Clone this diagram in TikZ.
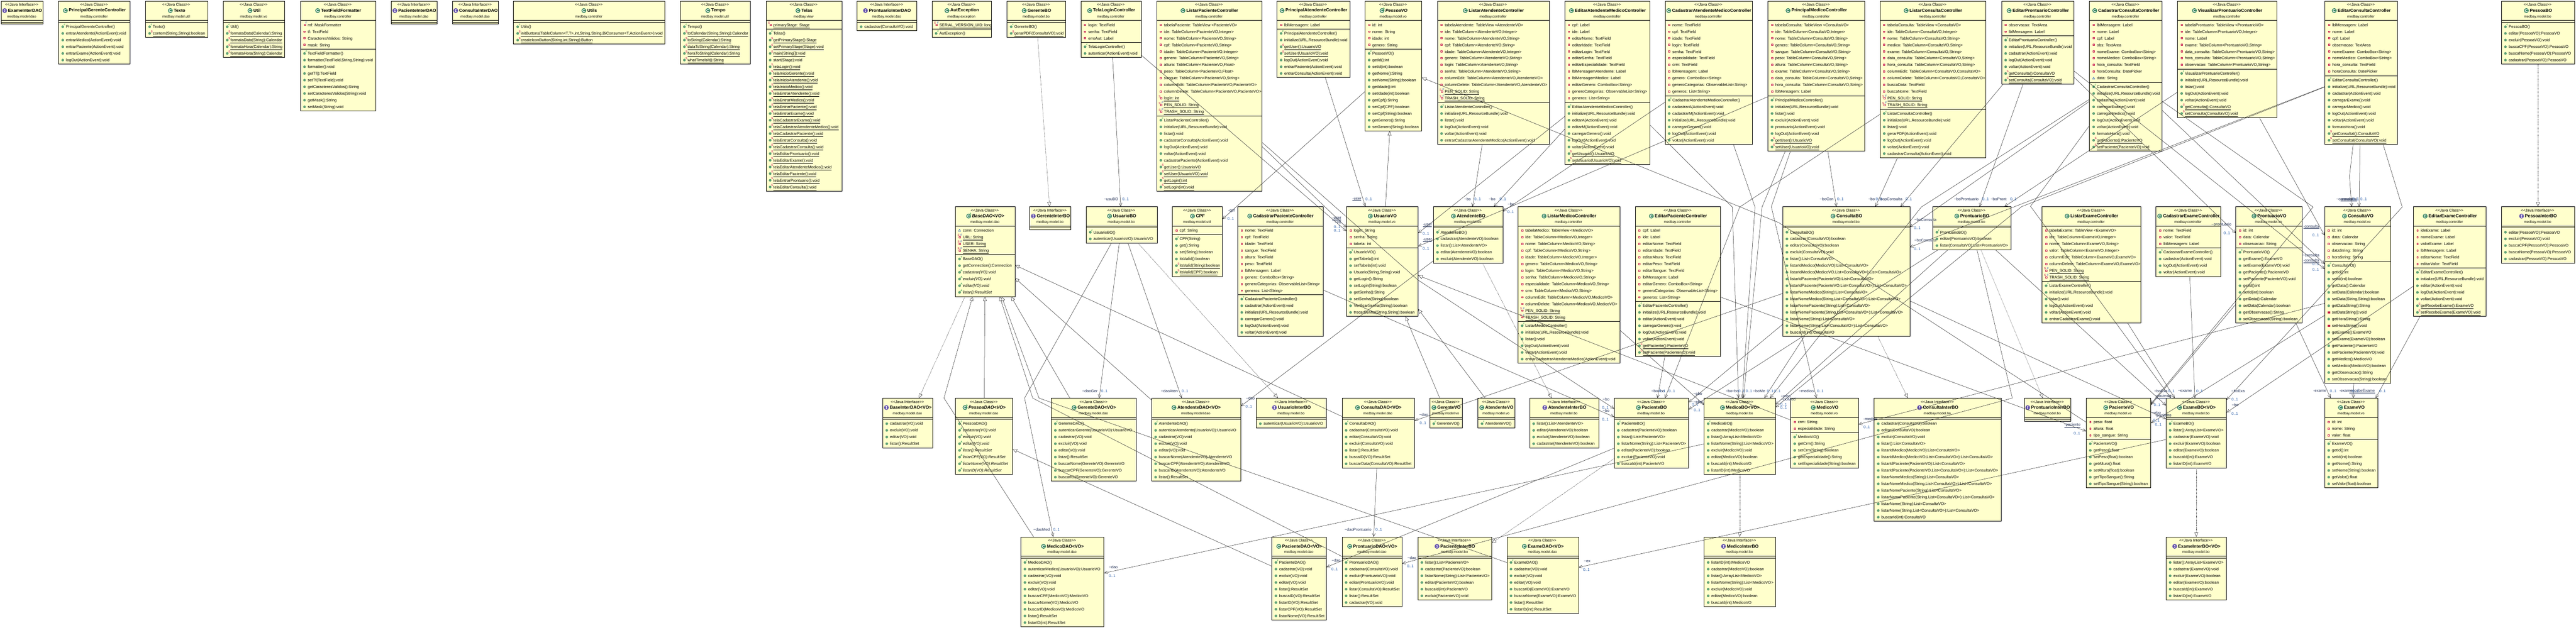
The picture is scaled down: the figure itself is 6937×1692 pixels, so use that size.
\documentclass[tikz,border=0pt]{standalone}
\usepackage{fontspec}
\setmainfont{Liberation Sans}
\usetikzlibrary{arrows.meta,calc}
\definecolor{cellbg}{HTML}{FFFFCC}
\definecolor{dotg}{HTML}{5FA97C}
\definecolor{dotgd}{HTML}{3E7F5A}
\definecolor{clsg}{HTML}{3F8A66}
\definecolor{ifcp}{HTML}{6A58B0}
\definecolor{privr}{HTML}{C8264E}
\definecolor{privf}{HTML}{FBD9D9}
\definecolor{statr}{HTML}{C0004E}
\definecolor{finb}{HTML}{2A48C0}
\definecolor{ctorg}{HTML}{0A8A3A}
\definecolor{pkgb}{HTML}{2A66C0}
\definecolor{rolec}{HTML}{1C2A50}
\definecolor{multc}{HTML}{2A5EA8}
\tikzset{
 umlcell/.style={draw=black,fill=cellbg,line width=1.1pt,anchor=north west,inner sep=0pt,outer sep=0pt},
 umlrule/.style={draw=black,line width=1pt},
 rowtext/.style={anchor=base west,inner sep=0pt,font=\fontsize{10.6}{12}\selectfont},
 steretext/.style={anchor=center,inner sep=0pt,font=\fontsize{10.4}{12}\selectfont},
 titletext/.style={anchor=center,inner sep=0pt,font=\fontsize{12}{14}\selectfont\bfseries},
 titleabs/.style={anchor=center,inner sep=0pt,font=\fontsize{12}{14}\selectfont\bfseries\itshape},
 pkgtext/.style={anchor=center,inner sep=0pt,font=\fontsize{9.3}{11}\selectfont},
 modtext/.style={anchor=center,inner sep=0pt,font=\fontsize{7.5}{8}\selectfont},
 rolelabel/.style={anchor=center,inner sep=0pt,text=rolec,font=\fontsize{10.5}{12}\selectfont},
 multlabel/.style={anchor=center,inner sep=0pt,text=multc,font=\fontsize{10.5}{12}\selectfont},
 assoc/.style={draw=black!85,line width=.7pt,-{Straight Barb[length=9pt,width=8pt]}},
 inherit/.style={draw=black!85,line width=.7pt,-{Triangle[open,length=12pt,width=10pt,fill=white]}},
 realize/.style={inherit,dash pattern=on 2pt off 1.6pt},
}
\newcount\itemcnt
\newcount\lblcnt
\newcommand{\rowitem}[1]{\global\advance\itemcnt by 1
 \node[rowtext,name=it\the\itemcnt] at (\bx+19.5,\ry+3.9) {#1};
 \pgfmathsetmacro\ry{\ry+18}}
\newcommand{\modS}[1]{\global\advance\itemcnt by 1
 \node[modtext,text=statr,name=it\the\itemcnt] at (\bx+#1,\ry-5) {S};}
\newcommand{\modF}[1]{\global\advance\itemcnt by 1
 \node[modtext,text=finb,name=it\the\itemcnt] at (\bx+#1,\ry-5.5) {F};}
\newcommand{\modC}{\global\advance\itemcnt by 1
 \node[modtext,text=ctorg,name=it\the\itemcnt] at (\bx+16,\ry-5) {c};}
\newcommand{\modA}{\global\advance\itemcnt by 1
 \node[modtext,text=ctorg,name=it\the\itemcnt] at (\bx+16,\ry-5) {A};}
\newcommand{\icSq}[1]{\draw[draw=privr,fill=privf,line width=.9pt] (\bx+#1-2,\ry-2) rectangle (\bx+#1+2,\ry+2);}
\newcommand{\icDot}{\fill[draw=dotgd,fill=dotg,line width=.5pt] (\bx+11,\ry) circle[radius=3.1];}
\newcommand{\aP}[1]{\icSq{11}\rowitem{#1}}
\newcommand{\aF}[1]{\icSq{12}\modF{16}\rowitem{#1}}
\newcommand{\aS}[1]{\icSq{12}\modS{8}\rowitem{\underline{#1}}}
\newcommand{\aSF}[1]{\icSq{12}\modS{8}\modF{16}\rowitem{\underline{#1}}}
\newcommand{\aK}[1]{\draw[draw=pkgb,fill=cellbg,line width=.9pt] (\bx+8,\ry+2.4) -- (\bx+14,\ry+2.4) -- (\bx+11,\ry-3) -- cycle;\rowitem{#1}}
\newcommand{\mP}[1]{\icDot\rowitem{#1}}
\newcommand{\mC}[1]{\icDot\modC\rowitem{#1}}
\newcommand{\mS}[1]{\icDot\modS{16.5}\rowitem{\underline{#1}}}
\newcommand{\mA}[1]{\icDot\modA\rowitem{\itshape #1}}
\newcommand{\mR}[1]{\fill[privr] (\bx+7.5,\ry-3) rectangle (\bx+14.5,\ry+3);\rowitem{#1}}
\newcommand{\umlbox}[9]{\def\bn{#1}\def\bx{#2}\def\by{#3}\def\bw{#4}\def\bk{#5}\def\bt{#6}\def\bp{#7}\def\na{#8}\def\nm{#9}\umlboxB}
\newcommand{\umlboxB}[2]{%
 \pgfmathsetmacro\hh{62+18*\na+18*\nm}%
 \pgfmathsetmacro\ya{\by+52}%
 \pgfmathsetmacro\yb{\by+57+18*\na}%
 \pgfmathsetmacro\cx{\bx+\bw/2}%
 \node[umlcell,minimum width=\bw pt,minimum height=\hh pt] (\bn) at (\bx,\by) {};
 \draw[umlrule] (\bx,\ya) -- (\bx+\bw,\ya);
 \draw[umlrule] (\bx,\yb) -- (\bx+\bw,\yb);
 \if\bk i\def\stt{<{}<Java Interface>{}>}\else\def\stt{<{}<Java Class>{}>}\fi
 \node[steretext] (\bn-st) at (\cx-1,\by+9.7) {\stt};
 \if\bk a\node[titleabs] (\bn-t) at (\cx+8,\by+25.5) {\bt};\else\node[titletext] (\bn-t) at (\cx+8,\by+25.5) {\bt};\fi
 \node[pkgtext] (\bn-p) at (\cx-1,\by+42) {\bp};
 \path ([xshift=-9pt]\bn-t.west) coordinate (\bn-ic);
 \if\bk i
  \fill[ifcp] (\bn-ic) circle[radius=6.5];
  \draw[white,line width=1.2pt,shift={(\bn-ic)}] (-1.8,-3) -- (1.8,-3) (0,-3) -- (0,3) (-1.8,3) -- (1.8,3);
 \else
  \fill[clsg] (\bn-ic) circle[radius=6.5];
  \draw[white,line width=1.3pt,shift={(\bn-ic)}] (3,-2.4) .. controls (0,-4.6) and (-3.6,-3) .. (-3.4,0) .. controls (-3.6,3) and (0,4.6) .. (3,2.4);
 \fi
 \if\bk a\node[modtext,text=ctorg] (\bn-abs) at ([shift={(5,-6)}]\bn-ic) {A};\fi
 \pgfmathsetmacro\ry{\ya+12}%
 #1
 \pgfmathsetmacro\ry{\yb+12}%
 #2
}
\newcommand{\lr}[3]{\global\advance\lblcnt by 1 \node[rolelabel,name=lb\the\lblcnt] at (#1,#2) {#3};}
\newcommand{\lm}[2]{\global\advance\lblcnt by 1 \node[multlabel,name=lb\the\lblcnt] at (#1,#2) {0..1};}
\newcommand{\tl}{\textasciitilde}
\newcommand{\ia}{medbay.model.dao}
\newcommand{\ib}{medbay.model.bo}
\newcommand{\iv}{medbay.model.vo}
\newcommand{\ic}{medbay.controller}
\newcommand{\evv}{(ActionEvent):void}
\newcommand{\ini}{initialize(URL,ResourceBundle):void}
\begin{document}
\begin{tikzpicture}[x=1pt,y=-1pt]
\useasboundingbox (0,0) rectangle (6937,1692);
% ---- row 1
\umlbox{eid}{3}{3}{113}{i}{ExameInterDAO}{\ia}{0}{0}{}{}
\umlbox{pgc}{158}{3}{192}{c}{PrincipalGerenteController}{\ic}{0}{6}{}{\mC{PrincipalGerenteController()}\mP{entrarAtendente\evv}\mP{entrarMedico\evv}\mP{entrarPaciente\evv}\mP{entrarExame\evv}\mP{logOut\evv}}
\umlbox{texto}{392}{3}{167}{c}{Texto}{medbay.model.util}{0}{2}{}{\mC{Texto()}\mS{contem(String,String):boolean}}
\umlbox{util}{601}{3}{166}{c}{Util}{\iv}{0}{5}{}{\mC{Util()}\mS{formataData(Calendar):String}\mS{formataData(String):Calendar}\mS{formataHora(Calendar):String}\mS{formataHora(String):Calendar}}
\umlbox{tff}{809}{3}{203}{c}{TextFieldFormatter}{\ic}{4}{9}{\aF{mf: MaskFormatter}\aP{tf: TextField}\aP{CaracteresValidos: String}\aP{mask: String}}{\mC{TextFieldFormatter()}\mP{formatter(TextField,String,String):void}\mP{formatter():void}\mP{getTf():TextField}\mP{setTf(TextField):void}\mP{getCaracteresValidos():String}\mP{setCaracteresValidos(String):void}\mP{getMask():String}\mP{setMask(String):void}}
\umlbox{pid}{1054}{3}{123}{i}{PacienteInterDAO}{\ia}{0}{0}{}{}
\umlbox{cid}{1219}{3}{123}{i}{ConsultaInterDAO}{\ia}{0}{0}{}{}
\umlbox{utils}{1383}{3}{407}{c}{Utils}{\ic}{0}{3}{}{\mC{Utils()}\mS{initButtons(TableColumn<T,T>,int,String,String,BiConsumer<T,ActionEvent>):void}\mS{createIconButton(String,int,String):Button}}
\umlbox{tempo}{1832}{3}{189}{c}{Tempo}{medbay.model.util}{0}{6}{}{\mC{Tempo()}\mS{toCalendar(String,String):Calendar}\mS{toString(Calendar):String}\mS{dataToString(Calendar):String}\mS{horaToString(Calendar):String}\mS{whatTimeIsIt():String}}
\umlbox{telas}{2063}{3}{204}{c}{Telas}{medbay.view}{1}{24}{\aS{primaryStage: Stage}}{\mC{Telas()}\mS{getPrimaryStage():Stage}\mS{setPrimaryStage(Stage):void}\mS{main(String[]):void}\mP{start(Stage):void}\mS{telaLogin():void}\mS{telaInicioGerente():void}\mS{telaInicioAtendente():void}\mS{telaInicioMedico():void}\mS{telaEntrarAtendente():void}\mS{telaEntrarMedico():void}\mS{telaEntrarPaciente():void}\mS{telaEntrarExame():void}\mS{telaCadastrarExame():void}\mS{telaCadastrarAtendenteMedico():void}\mS{telaCadastrarPaciente():void}\mS{telaEntrarConsulta():void}\mS{telaCadastrarConsulta():void}\mS{telaEditarProntuario():void}\mS{telaEditarExame():void}\mS{telaEditarAtendenteMedico():void}\mS{telaEditarPaciente():void}\mS{telaEntrarProntuario():void}\mS{telaEditarConsulta():void}}
\umlbox{prid}{2308}{3}{161}{i}{ProntuarioInterDAO}{\ia}{0}{1}{}{\mP{cadastrar(ConsultaVO):void}}
\umlbox{aute}{2510}{3}{160}{c}{AutException}{medbay.exception}{1}{1}{\aSF{SERIAL\_VERSION\_UID: long}}{\mC{AutException()}}
\umlbox{gerbo}{2712}{3}{158}{c}{GerenteBO}{\ib}{0}{2}{}{\mC{GerenteBO()}\mS{gerarPDF(ConsultaVO):void}}
\umlbox{tlc}{2911}{3}{162}{c}{TelaLoginController}{\ic}{3}{2}{\aP{login: TextField}\aP{senha: TextField}\aP{erroAut: Label}}{\mC{TelaLoginController()}\mP{autenticar\evv}}
\umlbox{lpc}{3115}{3}{283}{c}{ListarPacienteController}{\ic}{14}{11}{\aP{tabelaPaciente: TableView <PacienteVO>}\aP{ide: TableColumn<PacienteVO,Integer>}\aP{nome: TableColumn<PacienteVO,String>}\aP{cpf: TableColumn<PacienteVO,String>}\aP{idade: TableColumn<PacienteVO,Integer>}\aP{genero: TableColumn<PacienteVO,String>}\aP{altura: TableColumn<PacienteVO,Float>}\aP{peso: TableColumn<PacienteVO,Float>}\aP{sangue: TableColumn<PacienteVO,String>}\aP{columnEdit: TableColumn<PacienteVO,PacienteVO>}\aP{columnDelete: TableColumn<PacienteVO,PacienteVO>}\aS{login: int}\aSF{PEN\_SOLID: String}\aSF{TRASH\_SOLID: String}}{\mC{ListarPacienteController()}\mP{\ini}\mP{listar():void}\mP{cadastrarConsulta\evv}\mP{logOut\evv}\mP{voltar\evv}\mP{cadastrarPaciente\evv}\mS{getUser():UsuarioVO}\mS{setUser(UsuarioVO):void}\mS{getLogin():int}\mS{setLogin(int):void}}
\umlbox{pac}{3439}{3}{196}{c}{PrincipalAtendenteController}{\ic}{1}{7}{\aP{lblMensagem: Label}}{\mC{PrincipalAtendenteController()}\mP{\ini}\mS{getUser():UsuarioVO}\mS{setUser(UsuarioVO):void}\mP{logOut\evv}\mP{entrarPaciente\evv}\mP{entrarConsulta\evv}}
\umlbox{pessoavo}{3676}{3}{153}{a}{PessoaVO}{\iv}{4}{12}{\aP{id: int}\aP{nome: String}\aP{idade: int}\aP{genero: String}}{\mC{PessoaVO()}\mP{getId():int}\mP{setId(int):boolean}\mP{getNome():String}\mP{setNome(String):boolean}\mP{getIdade():int}\mP{setIdade(int):boolean}\mP{getCpf():String}\mP{setCpf(CPF):boolean}\mP{setCpf(String):boolean}\mP{getGenero():String}\mP{setGenero(String):boolean}}
\umlbox{lac}{3871}{3}{301}{c}{ListarAtendenteController}{\ic}{12}{6}{\aP{tabelaAtendente: TableView <AtendenteVO>}\aP{ide: TableColumn<AtendenteVO,Integer>}\aP{nome: TableColumn<AtendenteVO,String>}\aP{cpf: TableColumn<AtendenteVO,String>}\aP{idade: TableColumn<AtendenteVO,Integer>}\aP{genero: TableColumn<AtendenteVO,String>}\aP{login: TableColumn<AtendenteVO,String>}\aP{senha: TableColumn<AtendenteVO,String>}\aP{columnEdit: TableColumn<AtendenteVO,AtendenteVO>}\aP{columnDelete: TableColumn<AtendenteVO,AtendenteVO>}\aSF{PEN\_SOLID: String}\aSF{TRASH\_SOLID: String}}{\mC{ListarAtendenteController()}\mP{\ini}\mP{listar():void}\mP{logOut\evv}\mP{voltar\evv}\mP{entrarCadastrarAtendenteMedico\evv}}
\umlbox{eamc}{4214}{3}{229}{c}{EditarAtendenteMedicoController}{\ic}{12}{9}{\aP{cpf: Label}\aP{ide: Label}\aP{editarNome: TextField}\aP{editarIdade: TextField}\aP{editarLogin: TextField}\aP{editarSenha: TextField}\aP{editarEspecialidade: TextField}\aP{lblMensagemAtendente: Label}\aP{lblMensagemMedico: Label}\aP{editarGenero: ComboBox<String>}\aP{generoCategorias: ObservableList<String>}\aP{generos: List<String>}}{\mC{EditarAtendenteMedicoController()}\mP{\ini}\mP{editarA\evv}\mP{editarM\evv}\mP{carregarGenero():void}\mP{logOut\evv}\mP{voltar\evv}\mS{getUsuario():UsuarioVO}\mS{setUsuario(UsuarioVO):void}}
\umlbox{camc}{4484}{3}{235}{c}{CadastrarAtendenteMedicoController}{\ic}{11}{7}{\aP{nome: TextField}\aP{cpf: TextField}\aP{idade: TextField}\aP{login: TextField}\aP{senha: TextField}\aP{especialidade: TextField}\aP{crm: TextField}\aP{lblMensagem: Label}\aP{genero: ComboBox<String>}\aP{generoCategorias: ObservableList<String>}\aP{generos: List<String>}}{\mC{CadastrarAtendenteMedicoController()}\mP{cadastrarA\evv}\mP{cadastrarM\evv}\mP{\ini}\mP{carregarGenero():void}\mP{logOut\evv}\mP{voltar\evv}}
\umlbox{pmc}{4761}{3}{260}{c}{PrincipalMedicoController}{\ic}{11}{8}{\aP{tabelaConsulta: TableView <ConsultaVO>}\aP{ide: TableColumn<ConsultaVO,Integer>}\aP{nome: TableColumn<ConsultaVO,String>}\aP{genero: TableColumn<ConsultaVO,String>}\aP{sangue: TableColumn<ConsultaVO,String>}\aP{peso: TableColumn<ConsultaVO,String>}\aP{altura: TableColumn<ConsultaVO,String>}\aP{exame: TableColumn<ConsultaVO,String>}\aP{data\_consulta: TableColumn<ConsultaVO,String>}\aP{hora\_consulta: TableColumn<ConsultaVO,String>}\aP{lblMensagem: Label}}{\mC{PrincipalMedicoController()}\mP{\ini}\mP{listar():void}\mP{excluir\evv}\mP{prontuario\evv}\mP{logOut\evv}\mS{getUser():UsuarioVO}\mS{setUser(UsuarioVO):void}}
\umlbox{lcc}{5063}{3}{284}{c}{ListarConsultaController}{\ic}{13}{7}{\aP{tabelaConsulta: TableView <ConsultaVO>}\aP{ide: TableColumn<ConsultaVO,Integer>}\aP{nome: TableColumn<ConsultaVO,String>}\aP{medico: TableColumn<ConsultaVO,String>}\aP{exame: TableColumn<ConsultaVO,String>}\aP{data\_consulta: TableColumn<ConsultaVO,String>}\aP{hora\_consulta: TableColumn<ConsultaVO,String>}\aP{columnEdit: TableColumn<ConsultaVO,ConsultaVO>}\aP{columnDelete: TableColumn<ConsultaVO,ConsultaVO>}\aP{buscaData: TextField}\aP{buscaNome: TextField}\aSF{PEN\_SOLID: String}\aSF{TRASH\_SOLID: String}}{\mC{ListarConsultaController()}\mP{\ini}\mP{listar():void}\mP{gerarPDF\evv}\mP{logOut\evv}\mP{voltar\evv}\mP{cadastrarConsulta\evv}}
\umlbox{epc}{5390}{3}{195}{c}{EditarProntuarioController}{\ic}{2}{7}{\aP{observacao: TextArea}\aP{lblMensagem: Label}}{\mC{EditarProntuarioController()}\mP{\ini}\mP{cadastrar\evv}\mP{logOut\evv}\mP{voltar\evv}\mS{getConsulta():ConsultaVO}\mS{setConsulta(ConsultaVO):void}}
\umlbox{ccc}{5627}{3}{195}{c}{CadastrarConsultaController}{\ic}{9}{10}{\aP{lblMensagem: Label}\aP{nome: Label}\aP{cpf: Label}\aP{obs: TextArea}\aP{nomeExame: ComboBox<String>}\aP{nomeMedico: ComboBox<String>}\aP{hora\_consulta: TextField}\aP{horaConsulta: DatePicker}\aK{data: String}}{\mC{CadastrarConsultaController()}\mP{\ini}\mP{cadastrar\evv}\mP{carregarExame():void}\mP{carregarMedico():void}\mP{logOut\evv}\mP{voltar\evv}\mP{formatoHora():void}\mS{getPaciente():PacienteVO}\mS{setPaciente(PacienteVO):void}}
\umlbox{vpc}{5864}{3}{267}{c}{VisualizarProntuarioController}{\ic}{7}{7}{\aP{tabelaProntuario: TableView <ProntuarioVO>}\aP{ide: TableColumn<ProntuarioVO,Integer>}\aP{nome: Label}\aP{exame: TableColumn<ProntuarioVO,String>}\aP{data\_consulta: TableColumn<ProntuarioVO,String>}\aP{hora\_consulta: TableColumn<ProntuarioVO,String>}\aP{observacao: TableColumn<ProntuarioVO,String>}}{\mC{VisualizarProntuarioController()}\mP{\ini}\mP{listar():void}\mP{logOut\evv}\mP{voltar\evv}\mS{getConsulta():ConsultaVO}\mS{setConsulta(ConsultaVO):void}}
\umlbox{ecc}{6261}{3}{195}{c}{EditarConsultaController}{\ic}{8}{10}{\aP{lblMensagem: Label}\aP{nome: Label}\aP{cpf: Label}\aP{observacao: TextArea}\aP{nomeExame: ComboBox<String>}\aP{nomeMedico: ComboBox<String>}\aP{hora\_consulta: TextField}\aP{horaConsulta: DatePicker}}{\mC{EditarConsultaController()}\mP{\ini}\mP{cadastrar\evv}\mP{carregarExame():void}\mP{carregarMedico():void}\mP{logOut\evv}\mP{voltar\evv}\mP{formatoHora():void}\mS{getConsultaI():ConsultaVO}\mS{setConsultaI(ConsultaVO):void}}
\umlbox{pessoabo}{6736}{3}{197}{c}{PessoaBO}{\ib}{0}{6}{}{\mC{PessoaBO()}\mP{editar(PessoaVO):PessoaVO}\mP{excluir(PessoaVO):void}\mP{buscaCPF(PessoaVO):PessoaVO}\mP{buscaNome(PessoaVO):PessoaVO}\mP{cadastrar(PessoaVO):PessoaVO}}
% ---- row 2
\umlbox{basedao}{2573}{557}{160}{a}{BaseDAO<VO>}{\ia}{4}{6}{\aK{conn: Connection}\aSF{URL: String}\aSF{USER: String}\aSF{SENHA: String}}{\mC{BaseDAO()}\mP{getConnection():Connection}\mA{cadastrar(VO):void}\mA{excluir(VO):void}\mA{editar(VO):void}\mA{listar():ResultSet}}
\umlbox{geribo}{2773}{557}{111}{i}{GerenteInterBO}{\ib}{0}{0}{}{}
\umlbox{usubo}{2925}{557}{191}{c}{UsuarioBO}{\ib}{0}{2}{}{\mC{UsuarioBO()}\mP{autenticar(UsuarioVO):UsuarioVO}}
\umlbox{cpf}{3157}{557}{135}{c}{CPF}{medbay.model.util}{1}{6}{\aP{cpf: String}}{\mC{CPF(String)}\mP{get():String}\mP{set(String):boolean}\mP{itsValid():boolean}\mS{itsValid(String):boolean}\mS{itsValid(CPF):boolean}}
\umlbox{cpc}{3333}{557}{230}{c}{CadastrarPacienteController}{\ic}{10}{6}{\aP{nome: TextField}\aP{cpf: TextField}\aP{idade: TextField}\aP{sangue: TextField}\aP{altura: TextField}\aP{peso: TextField}\aP{lblMensagem: Label}\aP{genero: ComboBox<String>}\aP{generoCategorias: ObservableList<String>}\aP{generos: List<String>}}{\mC{CadastrarPacienteController()}\mP{cadastrar\evv}\mP{\ini}\mP{carregarGenero():void}\mP{logOut\evv}\mP{voltar\evv}}
\umlbox{usuvo}{3626}{557}{193}{c}{UsuarioVO}{\iv}{3}{10}{\aP{login: String}\aP{senha: String}\aP{tabela: int}}{\mC{UsuarioVO()}\mP{getTabela():int}\mP{setTabela(int):void}\mP{Usuario(String,String):void}\mP{getLogin():String}\mP{setLogin(String):boolean}\mP{getSenha():String}\mP{setSenha(String):boolean}\mP{VerificarSenha(String):boolean}\mP{trocarSenha(String,String):boolean}}
\umlbox{atebo}{3860}{557}{187}{c}{AtendenteBO}{\ib}{0}{5}{}{\mC{AtendenteBO()}\mP{cadastrar(AtendenteVO):boolean}\mP{listar():List<AtendenteVO>}\mP{editar(AtendenteVO):boolean}\mP{excluir(AtendenteVO):boolean}}
\umlbox{lmc}{4088}{557}{274}{c}{ListarMedicoController}{\ic}{14}{6}{\aP{tabelaMedico: TableView <MedicoVO>}\aP{ide: TableColumn<MedicoVO,Integer>}\aP{nome: TableColumn<MedicoVO,String>}\aP{cpf: TableColumn<MedicoVO,String>}\aP{idade: TableColumn<MedicoVO,Integer>}\aP{genero: TableColumn<MedicoVO,String>}\aP{login: TableColumn<MedicoVO,String>}\aP{senha: TableColumn<MedicoVO,String>}\aP{especialidade: TableColumn<MedicoVO,String>}\aP{crm: TableColumn<MedicoVO,String>}\aP{columnEdit: TableColumn<MedicoVO,MedicoVO>}\aP{columnDelete: TableColumn<MedicoVO,MedicoVO>}\aSF{PEN\_SOLID: String}\aSF{TRASH\_SOLID: String}}{\mC{ListarMedicoController()}\mP{\ini}\mP{listar():void}\mP{logOut\evv}\mP{voltar\evv}\mP{entrarCadastrarAtendenteMedico\evv}}
\umlbox{epac}{4404}{557}{229}{c}{EditarPacienteController}{\ic}{11}{8}{\aP{cpf: Label}\aP{ide: Label}\aP{editarNome: TextField}\aP{editarIdade: TextField}\aP{editarAltura: TextField}\aP{editarPeso: TextField}\aP{editarSangue: TextField}\aP{lblMensagem: Label}\aP{editarGenero: ComboBox<String>}\aP{generoCategorias: ObservableList<String>}\aP{generos: List<String>}}{\mC{EditarPacienteController()}\mP{\ini}\mP{editar\evv}\mP{carregarGenero():void}\mP{logOut\evv}\mP{voltar\evv}\mS{getPaciente():PacienteVO}\mS{setPaciente(PacienteVO):void}}
\umlbox{conbo}{4801}{557}{342}{c}{ConsultaBO}{\ib}{0}{16}{}{\mC{ConsultaBO()}\mP{cadastrar(ConsultaVO):boolean}\mP{editar(ConsultaVO):boolean}\mP{excluir(ConsultaVO):void}\mP{listar():List<ConsultaVO>}\mP{listarIdMedico(MedicoVO):List<ConsultaVO>}\mP{listarIdMedico(MedicoVO,List<ConsultaVO>):List<ConsultaVO>}\mP{listarIdPaciente(PacienteVO):List<ConsultaVO>}\mP{listarIdPaciente(PacienteVO,List<ConsultaVO>):List<ConsultaVO>}\mP{listarNomeMedico(String):List<ConsultaVO>}\mP{listarNomeMedico(String,List<ConsultaVO>):List<ConsultaVO>}\mP{listarNomePaciente(String):List<ConsultaVO>}\mP{listarNomePaciente(String,List<ConsultaVO>):List<ConsultaVO>}\mP{listarNome(String):List<ConsultaVO>}\mP{listarNome(String,List<ConsultaVO>):List<ConsultaVO>}\mP{buscarId(int):ConsultaVO}}
\umlbox{probo}{5205}{557}{210}{c}{ProntuarioBO}{\ib}{0}{3}{}{\mC{ProntuarioBO()}\mP{editar(ProntuarioVO):boolean}\mP{listar(ConsultaVO):List<ProntuarioVO>}}
\umlbox{lec}{5499}{557}{266}{c}{ListarExameController}{\ic}{8}{6}{\aP{tabelaExame: TableView <ExameVO>}\aP{ide: TableColumn<ExameVO,Integer>}\aP{nome: TableColumn<ExameVO,String>}\aP{valor: TableColumn<ExameVO,Integer>}\aP{columnEdit: TableColumn<ExameVO,ExameVO>}\aP{columnDelete: TableColumn<ExameVO,ExameVO>}\aSF{PEN\_SOLID: String}\aSF{TRASH\_SOLID: String}}{\mC{ListarExameController()}\mP{\ini}\mP{listar():void}\mP{logOut\evv}\mP{voltar\evv}\mP{entrarCadastrarExame():void}}
\umlbox{cec}{5806}{557}{174}{c}{CadastrarExameController}{\ic}{3}{4}{\aP{nome: TextField}\aP{valor: TextField}\aP{lblMensagem: Label}}{\mC{CadastrarExameController()}\mP{cadastrar\evv}\mP{logOut\evv}\mP{voltar\evv}}
\umlbox{provo}{6021}{557}{178}{c}{ProntuarioVO}{\iv}{3}{11}{\aP{id: int}\aP{data: Calendar}\aP{observacao: String}}{\mC{ProntuarioVO()}\mP{getExame():ExameVO}\mP{setExame(ExameVO):void}\mP{getPaciente():PacienteVO}\mP{setPaciente(PacienteVO):void}\mP{getId():int}\mP{setId(int):boolean}\mP{getData():Calendar}\mP{setData(Calendar):boolean}\mP{getObservacao():String}\mP{setObservacao(String):boolean}}
\umlbox{convo}{6260}{557}{178}{c}{ConsultaVO}{\iv}{5}{18}{\aP{id: int}\aP{data: Calendar}\aP{observacao: String}\aP{dataString: String}\aP{horaString: String}}{\mC{ConsultaVO()}\mP{getId():int}\mP{setId(int):boolean}\mP{getData():Calendar}\mP{setData(Calendar):boolean}\mP{setData(String,String):boolean}\mP{getDataString():String}\mR{setDataString():void}\mP{getHoraString():String}\mR{setHoraString():void}\mP{getExame():ExameVO}\mP{setExame(ExameVO):boolean}\mP{getPaciente():PacienteVO}\mP{setPaciente(PacienteVO):void}\mP{getMedico():MedicoVO}\mP{setMedico(MedicoVO):boolean}\mP{getObservacao():String}\mP{setObservacao(String):boolean}}
\umlbox{eec}{6499}{557}{196}{c}{EditarExameController}{\ic}{6}{7}{\aP{ideExame: Label}\aP{nomeExame: Label}\aP{valorExame: Label}\aP{lblMensagem: Label}\aP{editarNome: TextField}\aP{editarValor: TextField}}{\mC{EditarExameController()}\mP{\ini}\mP{editar\evv}\mP{logOut\evv}\mP{voltar\evv}\mS{getRecebeExame():ExameVO}\mS{setRecebeExame(ExameVO):void}}
\umlbox{pesibo}{6736}{557}{197}{i}{PessoaInterBO}{\ib}{0}{5}{}{\mP{editar(PessoaVO):PessoaVO}\mP{excluir(PessoaVO):void}\mP{buscaCPF(PessoaVO):PessoaVO}\mP{buscaNome(PessoaVO):PessoaVO}\mP{cadastrar(PessoaVO):PessoaVO}}
% ---- row 3
\umlbox{baseid}{2377}{1073}{135}{i}{BaseInterDAO<VO>}{\ia}{0}{4}{}{\mP{cadastrar(VO):void}\mP{excluir(VO):void}\mP{editar(VO):void}\mP{listar():ResultSet}}
\umlbox{pesdao}{2573}{1073}{154}{a}{PessoaDAO<VO>}{\ia}{0}{8}{}{\mC{PessoaDAO()}\mA{cadastrar(VO):void}\mA{excluir(VO):void}\mA{editar(VO):void}\mA{listar():ResultSet}\mA{listarCPF(VO):ResultSet}\mA{listarNome(VO):ResultSet}\mA{listarID(VO):ResultSet}}
\umlbox{gerdao}{2831}{1073}{229}{c}{GerenteDAO<VO>}{\ia}{0}{9}{}{\mC{GerenteDAO()}\mP{autenticarGerente(UsuarioVO):UsuarioVO}\mP{cadastrar(VO):void}\mP{excluir(VO):void}\mP{editar(VO):void}\mP{listar():ResultSet}\mP{buscarNome(GerenteVO):GerenteVO}\mP{buscarCPF(GerenteVO):GerenteVO}\mP{buscarID(GerenteVO):GerenteVO}}
\umlbox{atedao}{3101}{1073}{240}{c}{AtendenteDAO<VO>}{\ia}{0}{9}{}{\mC{AtendenteDAO()}\mP{autenticarAtendente(UsuarioVO):UsuarioVO}\mP{cadastrar(VO):void}\mP{excluir(VO):void}\mP{editar(VO):void}\mP{buscarNome(AtendenteVO):AtendenteVO}\mP{buscarCPF(AtendenteVO):AtendenteVO}\mP{buscarID(AtendenteVO):AtendenteVO}\mP{listar():ResultSet}}
\umlbox{usuibo}{3383}{1073}{189}{i}{UsuarioInterBO}{\ib}{0}{1}{}{\mP{autenticar(UsuarioVO):UsuarioVO}}
\umlbox{condao}{3614}{1073}{195}{c}{ConsultaDAO<VO>}{\ia}{0}{7}{}{\mC{ConsultaDAO()}\mP{cadastrar(ConsultaVO):void}\mP{editar(ConsultaVO):void}\mP{excluir(ConsultaVO):void}\mP{listar():ResultSet}\mP{buscaID(VO):ResultSet}\mP{buscarData(ConsultaVO):ResultSet}}
\umlbox{gervo}{3850}{1073}{88}{c}{GerenteVO}{\iv}{0}{1}{}{\mC{GerenteVO()}}
\umlbox{atevo}{3980}{1073}{99}{c}{AtendenteVO}{\iv}{0}{1}{}{\mC{AtendenteVO()}}
\umlbox{ateibo}{4119}{1073}{187}{i}{AtendenteInterBO}{\ib}{0}{4}{}{\mP{listar():List<AtendenteVO>}\mP{editar(AtendenteVO):boolean}\mP{excluir(AtendenteVO):boolean}\mP{cadastrar(AtendenteVO):boolean}}
\umlbox{pacbo}{4347}{1073}{200}{c}{PacienteBO}{\ib}{0}{7}{}{\mC{PacienteBO()}\mP{cadastrar(PacienteVO):boolean}\mP{listar():List<PacienteVO>}\mP{listarNome(String):List<PacienteVO>}\mP{editar(PacienteVO):boolean}\mP{excluir(PacienteVO):void}\mP{buscaId(int):PacienteVO}}
\umlbox{medbo}{4589}{1073}{192}{c}{MedicoBO<VO>}{\ib}{0}{8}{}{\mC{MedicoBO()}\mP{cadastrar(MedicoVO):boolean}\mP{listar():ArrayList<MedicoVO>}\mP{listarNome(String):List<MedicoVO>}\mP{excluir(MedicoVO):void}\mP{editar(MedicoVO):boolean}\mP{buscaId(int):MedicoVO}\mP{listarID(int):MedicoVO}}
\umlbox{medvo}{4822}{1073}{183}{c}{MedicoVO}{\iv}{2}{5}{\aP{crm: String}\aP{especialidade: String}}{\mC{MedicoVO()}\mP{getCrm():String}\mP{setCrm(String):boolean}\mP{getEspecialidade():String}\mP{setEspecialidade(String):boolean}}
\umlbox{conibo}{5047}{1073}{342}{i}{ConsultaInterBO}{\ib}{0}{15}{}{\mP{cadastrar(ConsultaVO):boolean}\mP{editar(ConsultaVO):boolean}\mP{excluir(ConsultaVO):void}\mP{listar():List<ConsultaVO>}\mP{listarIdMedico(MedicoVO):List<ConsultaVO>}\mP{listarIdMedico(MedicoVO,List<ConsultaVO>):List<ConsultaVO>}\mP{listarIdPaciente(PacienteVO):List<ConsultaVO>}\mP{listarIdPaciente(PacienteVO,List<ConsultaVO>):List<ConsultaVO>}\mP{listarNomeMedico(String):List<ConsultaVO>}\mP{listarNomeMedico(String,List<ConsultaVO>):List<ConsultaVO>}\mP{listarNomePaciente(String):List<ConsultaVO>}\mP{listarNomePaciente(String,List<ConsultaVO>):List<ConsultaVO>}\mP{listarNome(String):List<ConsultaVO>}\mP{listarNome(String,List<ConsultaVO>):List<ConsultaVO>}\mP{buscarId(int):ConsultaVO}}
\umlbox{proibo}{5451}{1073}{126}{i}{ProntuarioInterBO}{\ib}{0}{0}{}{}
\umlbox{pacvo}{5618}{1073}{174}{c}{PacienteVO}{\iv}{3}{7}{\aP{peso: float}\aP{altura: float}\aP{tipo\_sangue: String}}{\mC{PacienteVO()}\mP{getPeso():float}\mP{setPeso(float):boolean}\mP{getAltura():float}\mP{setAltura(float):boolean}\mP{getTipoSangue():String}\mP{setTipoSangue(String):boolean}}
\umlbox{exabo}{5833}{1073}{163}{c}{ExameBO<VO>}{\ib}{0}{7}{}{\mC{ExameBO()}\mP{listar():ArrayList<ExameVO>}\mP{cadastrar(ExameVO):void}\mP{excluir(ExameVO):boolean}\mP{editar(ExameVO):boolean}\mP{buscaId(int):ExameVO}\mP{listarID(int):ExameVO}}
\umlbox{exavo}{6260}{1073}{144}{c}{ExameVO}{\iv}{3}{7}{\aP{id: int}\aP{nome: String}\aP{valor: float}}{\mC{ExameVO()}\mP{getId():int}\mP{setId(int):boolean}\mP{getNome():String}\mP{setNome(String):boolean}\mP{getValor():float}\mP{setValor(float):boolean}}
% ---- row 4
\umlbox{meddao}{2749}{1447}{224}{c}{MedicoDAO<VO>}{\ia}{0}{10}{}{\mC{MedicoDAO()}\mP{autenticarMedico(UsuarioVO):UsuarioVO}\mP{cadastrar(VO):void}\mP{excluir(VO):void}\mP{editar(VO):void}\mP{buscarCPF(MedicoVO):MedicoVO}\mP{buscarNome(VO):MedicoVO}\mP{buscarID(MedicoVO):MedicoVO}\mP{listar():ResultSet}\mP{listarID(int):ResultSet}}
\umlbox{pacdao}{3425}{1447}{147}{c}{PacienteDAO<VO>}{\ia}{0}{9}{}{\mC{PacienteDAO()}\mP{cadastrar(VO):void}\mP{excluir(VO):void}\mP{editar(VO):void}\mP{listar():ResultSet}\mP{buscaID(VO):ResultSet}\mP{listarID(VO):ResultSet}\mP{listarCPF(VO):ResultSet}\mP{listarNome(VO):ResultSet}}
\umlbox{prodao}{3614}{1447}{162}{c}{ProntuarioDAO<VO>}{\ia}{0}{7}{}{\mC{ProntuarioDAO()}\mP{cadastrar(ConsultaVO):void}\mP{excluir(ProntuarioVO):void}\mP{editar(ProntuarioVO):void}\mP{listar(ConsultaVO):ResultSet}\mP{listar():ResultSet}\mP{cadastrar(VO):void}}
\umlbox{pacibo}{3818}{1447}{199}{i}{PacienteInterBO}{\ib}{0}{6}{}{\mP{listar():List<PacienteVO>}\mP{cadastrar(PacienteVO):boolean}\mP{listarNome(String):List<PacienteVO>}\mP{editar(PacienteVO):boolean}\mP{buscaId(int):PacienteVO}\mP{excluir(PacienteVO):void}}
\umlbox{exadao}{4058}{1447}{193}{c}{ExameDAO<VO>}{\ia}{0}{8}{}{\mC{ExameDAO()}\mP{cadastrar(VO):void}\mP{excluir(VO):void}\mP{editar(VO):void}\mP{buscarID(ExameVO):ExameVO}\mP{buscarNome(ExameVO):ExameVO}\mP{listar():ResultSet}\mP{listarID(int):ResultSet}}
\umlbox{medibo}{4589}{1447}{192}{i}{MedicoInterBO}{\ib}{0}{7}{}{\mP{listarID(int):MedicoVO}\mP{cadastrar(MedicoVO):boolean}\mP{listar():ArrayList<MedicoVO>}\mP{listarNome(String):List<MedicoVO>}\mP{excluir(MedicoVO):void}\mP{editar(MedicoVO):boolean}\mP{buscaId(int):MedicoVO}}
\umlbox{exaibo}{5833}{1447}{163}{i}{ExameInterBO<VO>}{\ib}{0}{6}{}{\mP{listar():ArrayList<ExameVO>}\mP{cadastrar(ExameVO):void}\mP{excluir(ExameVO):boolean}\mP{editar(ExameVO):boolean}\mP{buscaId(int):ExameVO}\mP{listarID(int):ExameVO}}
% ---- bend points
\coordinate (bMedBase) at (2542,1073);
\coordinate (bProBase) at (2781,1073);
\coordinate (bExaBase) at (2798,1073);
\coordinate (bUsuMed) at (2759,1073);
\coordinate (bProDao) at (5419,1073);
\coordinate (bCcMed) at (5174,558);
\coordinate (bCcExa) at (5468,556);
\coordinate (bCcPac) at (6229,558);
\coordinate (bEcMed) at (5444,557);
\coordinate (bEcExa) at (6469,558);
\coordinate (bEcCon) at (6327,475);
\coordinate (bLcPac) at (4685,558);
\coordinate (bEaMed) at (4665,558);
\coordinate (bCaMed) at (4726,558);
\coordinate (bPmMed) at (4745,558);
\coordinate (bPmMvo) at (4770,557);
\coordinate (bLpPac) at (3819,755);
\coordinate (bPacPes) at (4790,600);
% ---- inheritance and realization
\draw[inherit] (pesdao) -- (basedao);
\draw[inherit] (gerdao) -- (basedao);
\draw[inherit] (atedao) -- (basedao);
\draw[inherit] (condao) -- (basedao);
\draw[inherit] (prodao) -- (bProBase) -- (basedao);
\draw[inherit] (exadao) -- (bExaBase) -- (basedao);
\draw[inherit] (meddao) -- (bMedBase) -- (basedao);
\draw[inherit] (pacdao) -- (pesdao);
\draw[inherit] (usuvo) -- (pessoavo);
\draw[inherit] (gervo) -- (usuvo);
\draw[inherit] (atevo) -- (usuvo);
\draw[inherit] (medvo) -- (usuvo);
\draw[inherit] (pacvo) -- (bPacPes) -- (pessoavo);
\draw[realize] (basedao) -- (baseid);
\draw[realize] (gerbo) -- (geribo);
\draw[realize] (usubo) -- (usuibo);
\draw[realize] (atebo) -- (ateibo);
\draw[realize] (pacbo) -- (pacibo);
\draw[realize] (medbo) -- (medibo);
\draw[realize] (conbo) -- (conibo);
\draw[realize] (probo) -- (proibo);
\draw[realize] (exabo) -- (exaibo);
\draw[realize] (pessoabo) -- (pesibo);
% ---- associations
\draw[assoc] (tlc) -- (usubo);
\draw[assoc] (tlc) -- (usuvo);
\draw[assoc] (lpc) -- (usuvo);
\draw[assoc] (lpc) -- (bLpPac) -- (pacbo);
\draw[assoc] (cpc) -- (pacbo);
\draw[assoc] (epac) -- (pacbo);
\draw[assoc] (epac) -- (pacvo);
\draw[assoc] (pac) -- (usuvo);
\draw[assoc] (pessoavo) -- (cpf);
\draw[assoc] (lac) -- (atebo);
\draw[assoc] (eamc) -- (atebo);
\draw[assoc] (eamc) -- (usuvo);
\draw[assoc] (eamc) -- (bEaMed) -- (medbo);
\draw[assoc] (camc) -- (atebo);
\draw[assoc] (camc) -- (bCaMed) -- (medbo);
\draw[assoc] (lmc) -- (medbo);
\draw[assoc] (pmc) -- (usuvo);
\draw[assoc] (pmc) -- (conbo);
\draw[assoc] (pmc) -- (bPmMed) -- (medbo);
\draw[assoc] (pmc) -- (bPmMvo) -- (medvo);
\draw[assoc] (lcc) -- (conbo);
\draw[assoc] (lcc) -- (bLcPac) -- (pacbo);
\draw[assoc] (epc) -- (conbo);
\draw[assoc] (epc) -- (probo);
\draw[assoc] (epc) -- (convo);
\draw[assoc] (epc) -- (provo);
\draw[assoc] (vpc) -- (probo);
\draw[assoc] (vpc) -- (convo);
\draw[assoc] (ccc) -- (conbo);
\draw[assoc] (ccc) -- (convo);
\draw[assoc] (ccc) -- (bCcMed) -- (medbo);
\draw[assoc] (ccc) -- (bCcExa) -- (exabo);
\draw[assoc] (ccc) -- (bCcPac) -- (pacvo);
\draw[assoc] (ecc) -- (conbo);
\draw[assoc] (ecc) -- (convo);
\draw[assoc] (ecc) -- (bEcCon) -- (convo);
\draw[assoc] (ecc) -- (bEcMed) -- (medbo);
\draw[assoc] (ecc) -- (bEcExa) -- (exabo);
\draw[assoc] (lec) -- (exabo);
\draw[assoc] (cec) -- (exabo);
\draw[assoc] (eec) -- (exabo);
\draw[assoc] (eec) -- (exavo);
\draw[assoc] (usubo) -- (gerdao);
\draw[assoc] (usubo) -- (atedao);
\draw[assoc] (usubo) -- (bUsuMed) -- (meddao);
\draw[assoc] (atebo) -- (atedao);
\draw[assoc] (pacbo) -- (pacdao);
\draw[assoc] (medbo) -- (meddao);
\draw[assoc] (exabo) -- (exadao);
\draw[assoc] (conbo) -- (condao);
\draw[assoc] (conbo) -- (pacbo);
\draw[assoc] (conbo) -- (medbo);
\draw[assoc] (conbo) -- (exabo);
\draw[assoc] (condao) -- (prodao);
\draw[assoc] (probo) -- (bProDao) -- (prodao);
\draw[assoc] (probo) -- (pacbo);
\draw[assoc] (probo) -- (medbo);
\draw[assoc] (probo) -- (exabo);
\draw[assoc] (convo) -- (exavo);
\draw[assoc] (convo) -- (medvo);
\draw[assoc] (convo) -- (pacvo);
\draw[assoc] (provo) -- (exavo);
\draw[assoc] (provo) -- (pacvo);
% ---- labels
\lr{2992}{537}{\tl usuBO}\lm{3031}{537}
\lr{3654}{537}{\underline{-user}}\lm{3686}{537}
\lr{3952}{537}{\tl bo}\lm{3979}{537}
\lr{4018}{537}{\tl bo}\lm{4047}{537}
\lr{4069}{550}{\tl bo}\lm{4068}{572}
\lr{4919}{537}{\tl boCon}\lm{4956}{537}
\lr{5040}{537}{\tl bo}\lm{5060}{537}
\lr{5090}{537}{\tl bopConsulta}\lm{5140}{537}
\lr{5295}{537}{\tl boProntuario}\lm{5347}{537}
\lr{5382}{537}{\tl boPront}\lm{5422}{537}
\lr{6314}{537}{\tl consulta}\lr{6325}{537}{\underline{-consultaI}}\lm{6344}{537}\lm{6365}{537}
\lr{2935}{1054}{\tl daoGer}\lm{2974}{1054}
\lr{3149}{1054}{\tl daoAten}\lm{3191}{1054}
\lr{3367}{1073}{\tl dao}\lm{3363}{1096}
\lr{3316}{568}{-cpf}\lm{3314}{590}
\lr{3600}{589}{\underline{-user}}\lr{3603}{600}{\tl vo}\lm{3601}{612}\lm{3601}{622}
\lr{2805}{1427}{\tl daoMed}\lm{2845}{1428}
\lr{2998}{1528}{\tl dao}\lm{2995}{1552}
\lr{3598}{1511}{\tl dao}\lm{3594}{1534}
\lr{3657}{1427}{\tl daoProntuario}\lm{3713}{1428}
\lr{3844}{607}{\underline{-user}}\lm{3840}{630}
\lr{3844}{647}{\underline{-user}}\lm{3840}{670}
\lr{3834}{1118}{\tl dao}\lm{3832}{1140}
\lr{4325}{1076}{\tl bo}\lm{4323}{1098}
\lr{4325}{1107}{\tl bo}\lm{4323}{1130}
\lr{4456}{1054}{\tl bo}\lr{4474}{1054}{\tl bo}\lm{4476}{1054}\lm{4502}{1054}
\lr{4572}{1062}{\tl pbo}\lm{4565}{1091}\lr{4572}{1084}{\tl pbo}\lm{4570}{1106}
\lr{4656}{1054}{\tl bo}\lr{4673}{1054}{\tl bo}\lm{4690}{1054}\lm{4710}{1054}
\lr{4737}{1054}{\tl boMe}\lm{4767}{1054}\lm{4786}{1054}
\lr{4274}{1513}{\tl ex}\lm{4272}{1536}
\lr{3802}{1503}{\tl dao}\lm{3798}{1526}
\lr{4864}{1054}{\tl medico}\lm{4902}{1054}
\lr{4809}{1068}{\tl mbo}\lr{4816}{1076}{\tl boMed}\lm{4803}{1090}\lm{4803}{1099}
\lr{5037}{1129}{-medico}\lm{5027}{1152}
\lr{5185}{592}{\tl boConsulta}\lm{5163}{615}
\lr{5185}{648}{\tl boConsulta}\lm{5163}{671}
\lr{5581}{1146}{\underline{-paciente}}\lm{5593}{1168}
\lr{5819}{1054}{\tl boExa}\lm{5847}{1054}
\lr{5826}{1068}{\underline{-paciente}}\lm{5809}{1092}
\lr{5807}{1112}{\tl ebo}\lr{5826}{1121}{-paciente}\lm{5807}{1134}\lm{5812}{1145}
\lr{5982}{605}{\tl prontuario}\lm{5997}{628}
\lr{6224}{611}{\underline{-consulta}}\lm{6236}{634}
\lr{6223}{688}{\tl consulta}\lm{6236}{711}
\lr{6224}{703}{\underline{-consulta}}\lm{6236}{727}
\lr{5884}{1054}{\tl exame}\lm{5923}{1054}
\lr{6027}{1054}{\tl boExa}\lm{6018}{1076}
\lr{6019}{1091}{\tl bo}\lm{6018}{1115}
\lr{6247}{1054}{-exame}\lm{6283}{1054}
\lr{6317}{1054}{-exame}\lr{6361}{1054}{\underline{-recebeExame}}\lm{6343}{1054}\lm{6416}{1054}
\end{tikzpicture}
\end{document}
